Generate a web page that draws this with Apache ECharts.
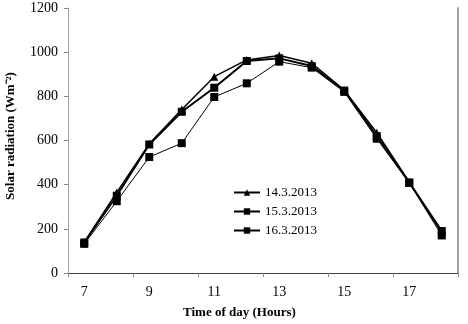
<!DOCTYPE html>
<html><head><meta charset="utf-8">
<script src="https://cdn.jsdelivr.net/npm/echarts@6/dist/echarts.min.js"></script>
<style>html,body{margin:0;padding:0;background:#fff}#c{width:468px;height:324px}</style>
</head><body><div id="c"></div>
<script>
const hours = ['7','8','9','10','11','12','13','14','15','16','17','18'];
const s14 = [140, 365, 585, 740, 889, 965, 985, 950, 828, 635, 412, 182];
const s15 = [138, 350, 582, 730, 839, 960, 972, 937, 826, 620, 410, 190];
const s16 = [132, 325, 525, 588, 797, 859, 957, 930, 820, 608, 408, 170];
const yTicks = {min: 0, max: 1200, interval: 200};
const FONT = '"Liberation Serif", "Times New Roman", serif';

const chart = echarts.init(document.getElementById('c'));
const mk = (name, data, symbol, size, width) => ({
  name, type: 'line', data, symbol, symbolSize: size, showSymbol: true,
  lineStyle: {color: '#000', width}, itemStyle: {color: '#000'},
  animation: false, z: 3
});
chart.setOption({
  animation: false,
  grid: {left: 68, top: 8, right: 10, bottom: 51},
  textStyle: {fontFamily: FONT},
  legend: {
    orient: 'vertical', left: 228, top: 181, itemWidth: 26, itemHeight: 8, itemGap: 6,
    textStyle: {fontFamily: FONT, fontSize: 13, color: '#000'},
    data: ['14.3.2013', '15.3.2013', '16.3.2013']
  },
  xAxis: [{
    type: 'category', data: hours, boundaryGap: true,
    axisLine: {show: false},
    axisTick: {show: true, interval: 1, length: 4, lineStyle: {color: '#888'}},
    axisLabel: {interval: 1, margin: 12, fontFamily: FONT, fontSize: 14, color: '#000'}
  }, {
    type: 'category', data: hours, position: 'top',
    axisLine: {show: true, lineStyle: {color: '#404040', width: 1}},
    axisTick: {show: false}, axisLabel: {show: false}
  }],
  yAxis: [{
    type: 'value', min: yTicks.min, max: yTicks.max, interval: yTicks.interval,
    axisLine: {show: true, lineStyle: {color: '#a0a0a0'}},
    axisTick: {show: true, length: 4, lineStyle: {color: '#888'}},
    splitLine: {show: false},
    axisLabel: {margin: 10, fontFamily: FONT, fontSize: 14, color: '#000', formatter: v => String(v)}
  }, {
    type: 'value', position: 'right', min: yTicks.min, max: yTicks.max, interval: yTicks.interval,
    axisLine: {show: true, lineStyle: {color: '#a0a0a0', width: 2}},
    axisTick: {show: false}, axisLabel: {show: false}, splitLine: {show: false}
  }],
  series: [
    mk('14.3.2013', s14, 'triangle', 8, 1.5),
    mk('15.3.2013', s15, 'rect', 8, 2),
    mk('16.3.2013', s16, 'rect', 8, 1)
  ],
  graphic: [
    {type: 'text', left: 183, top: 306, style: {text: 'Time of day (Hours)', font: 'bold 13px ' + FONT, fill: '#000'}},
    {type: 'text', x: 11, y: 136, rotation: Math.PI / 2,
      style: {text: 'Solar radiation (Wm\u207B\u00B2)', font: 'bold 13px ' + FONT, fill: '#000', align: 'center', verticalAlign: 'middle'}}
  ]
});
</script></body></html>
